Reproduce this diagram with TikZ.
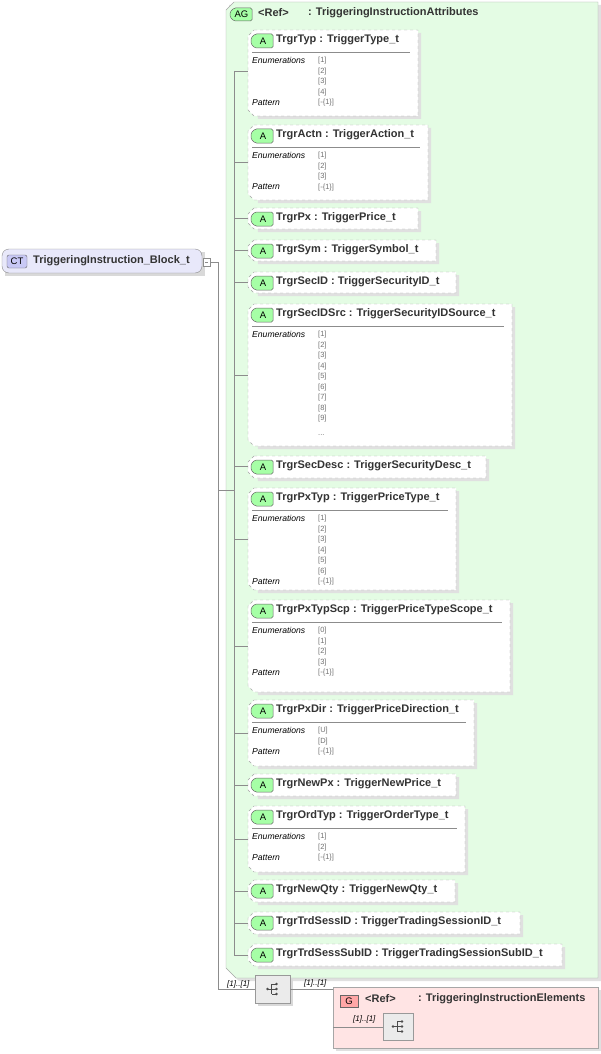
\documentclass[tikz,border=0pt]{standalone}
\usepackage{fontspec}
\setmainfont{Liberation Sans}
\begin{document}
\begin{tikzpicture}[x=1pt,y=-1pt,
  lbl/.style={font=\bfseries\fontsize{11}{12}\selectfont,text=black!80,inner sep=0,anchor=west},
  enm/.style={font=\fontsize{7.5}{8}\selectfont,text=black!55,inner sep=0,anchor=west},
  enl/.style={font=\itshape\fontsize{8.6}{9}\selectfont,inner sep=0,anchor=west},
  mult/.style={font=\itshape\fontsize{8}{9}\selectfont,inner sep=0,anchor=west},
  bdg/.style={font=\fontsize{9.5}{10}\selectfont,inner sep=0},
  wire/.style={draw=black!45,line width=0.6pt},
  badge/.style={draw=black!60,fill=green!35!white,rounded corners=1.5pt,line width=0.5pt}]
\useasboundingbox (0,0) rectangle (601,1054);
\newcommand\attr[6]{% top, bottom, right, name, type, branch y
  \fill[black!12] (256,#1+3) -- (#3+3,#1+3) -- (#3+3,#2+3) -- (258,#2+3) -- cycle;
  \draw[dashed,draw=black!35,fill=white] (254,#1) -- (#3,#1) -- (#3,#2) -- (254,#2) -- (248,#2-6) -- (248,#1+6) -- cycle;
  \draw[badge] (255,#1+4) -- (273,#1+4) -- (273,#1+18) -- (255,#1+18) -- (251,#1+14) -- (251,#1+8) -- cycle;
  \node[bdg] at (263,#1+11.5) {A};
  \node[lbl] at (276,#1+10) {#4\ : #5};
  \draw[wire] (234,#6) -- (248,#6);
}
\newcommand\enums[4]{% top, right, list, n(pattern row index or 0)
  \draw[black!45] (252,#1+22) -- (#2-8,#1+22);
  \node[enl] at (252,#1+30) {Enumerations};
  \foreach \v [count=\i] in {#3} {\node[enm] at (318,#1+31+\i*10.5-10.5) {[\v]};}
  \ifnum#4>0
    \node[enl] at (252,#1+31+#4*10.5-11) {Pattern};
    \node[enm] at (318,#1+31+#4*10.5-10.5) {[-\{1\}]};
  \fi
}
% main CT node
\fill[black!15] (5,252) rectangle (205,276);
\draw[black!45,fill={rgb,255:red,232;green,232;blue,250},rounded corners=7pt] (2,249) rectangle (202,273);
\draw[draw=black!60,fill={rgb,255:red,200;green,200;blue,245},rounded corners=2pt] (7,255) rectangle (27,268);
\node[bdg] (ct) at (17,261.5) {CT};
\node[lbl] (ctl) at (33,260.5) {TriggeringInstruction\_Block\_t};
\draw[black!45,fill=white] (203,258) rectangle (210,266);
\draw[black!45] (205,262) -- (208,262);
\coordinate (j) at (218,262);
\draw[wire] (210,262) -- (j) -- (218,989) -- (255,989);
% AG group
\fill[black!12] (229,5) -- (601,5) -- (601,981) -- (239,981) -- (229,971) -- cycle;
\draw[black!35,fill={rgb,255:red,228;green,252;blue,228}] (234,2) -- (598,2) -- (598,978) -- (236,978) -- (226,968) -- (226,10) -- cycle;
\draw[badge] (234,8) -- (252,8) -- (252,21) -- (234,21) -- (230,17) -- (230,12) -- cycle;
\node[bdg] (ag) at (241.5,14.5) {AG};
\node[lbl] (agr) at (258,13) {<Ref>};
\node[lbl] (agt) at (308,13) {: TriggeringInstructionAttributes};
\draw[wire] (218,490) -- (234,490);
\draw[wire] (234,71) -- (234,955);
% attributes
\attr{30}{116}{418}{TrgrTyp}{TriggerType\_t}{71}
\enums{30}{418}{1,2,3,4}{5}
\attr{125}{200}{428}{TrgrActn}{TriggerAction\_t}{162}
\enums{125}{428}{1,2,3}{4}
\attr{208}{229}{418}{TrgrPx}{TriggerPrice\_t}{218}
\attr{240}{261}{436}{TrgrSym}{TriggerSymbol\_t}{250}
\attr{272}{293}{456}{TrgrSecID}{TriggerSecurityID\_t}{282}
\attr{304}{446}{512}{TrgrSecIDSrc}{TriggerSecurityIDSource\_t}{375}
\enums{304}{512}{1,2,3,4,5,6,7,8,9}{0}
\node[enm] at (318,435) {...};
\attr{456}{478}{486}{TrgrSecDesc}{TriggerSecurityDesc\_t}{466}
\attr{488}{590}{456}{TrgrPxTyp}{TriggerPriceType\_t}{539}
\enums{488}{456}{1,2,3,4,5,6}{7}
\attr{600}{692}{510}{TrgrPxTypScp}{TriggerPriceTypeScope\_t}{646}
\enums{600}{510}{0,1,2,3}{5}
\attr{700}{766}{474}{TrgrPxDir}{TriggerPriceDirection\_t}{733}
\enums{700}{474}{U,D}{3}
\attr{774}{796}{456}{TrgrNewPx}{TriggerNewPrice\_t}{785}
\attr{806}{872}{465}{TrgrOrdTyp}{TriggerOrderType\_t}{839}
\enums{806}{465}{1,2}{3}
\attr{880}{902}{455}{TrgrNewQty}{TriggerNewQty\_t}{891}
\attr{912}{934}{520}{TrgrTrdSessID}{TriggerTradingSessionID\_t}{923}
\attr{944}{966}{562}{TrgrTrdSessSubID}{TriggerTradingSessionSubID\_t}{955}
% sequence
\node[mult] at (227,984) {[1]..[1]};
\fill[black!15] (258,978) rectangle (293,1006);
\draw[black!40,fill=black!8] (255,975) rectangle (290,1003);
\node[inner sep=0] (seq) at (272.5,989) {};
\draw[wire] (290,989) -- (333,989);
% G group
\fill[black!12] (336,990) rectangle (601,1051);
\draw[black!35,fill={rgb,255:red,255;green,228;blue,228}] (333,987) rectangle (598,1048);
\node[mult] at (304,983) {[1]..[1]};
\draw[draw=black!60,fill=red!35!white] (340,995) rectangle (358,1007);
\node[bdg] (g) at (349,1001) {G};
\node[lbl] at (365,999) {<Ref>};
\node[lbl] at (418,999) {: TriggeringInstructionElements};
\node[mult] at (353,1019) {[1]..[1]};
\draw[wire] (333,1027) -- (383,1027);
\draw[black!40,fill=black!8] (383,1013) rectangle (413,1040);
% sequence icons
\foreach \cx/\cy in {272.5/989,398/1026.5}{
  \fill[black!70] (\cx-5,\cy) circle (1.3);
  \draw[black!70,line width=0.6pt] (\cx-5,\cy) -- (\cx-1,\cy) (\cx-1,\cy-5) -- (\cx-1,\cy+5) (\cx-1,\cy-5) -- (\cx+3,\cy-5) (\cx-1,\cy+5) -- (\cx+3,\cy+5) (\cx-1,\cy) -- (\cx+3,\cy);
  \foreach \dy in {-5,0,5} \fill[black!70] (\cx+4,\cy+\dy) circle (1.3);
}
\end{tikzpicture}
\end{document}
